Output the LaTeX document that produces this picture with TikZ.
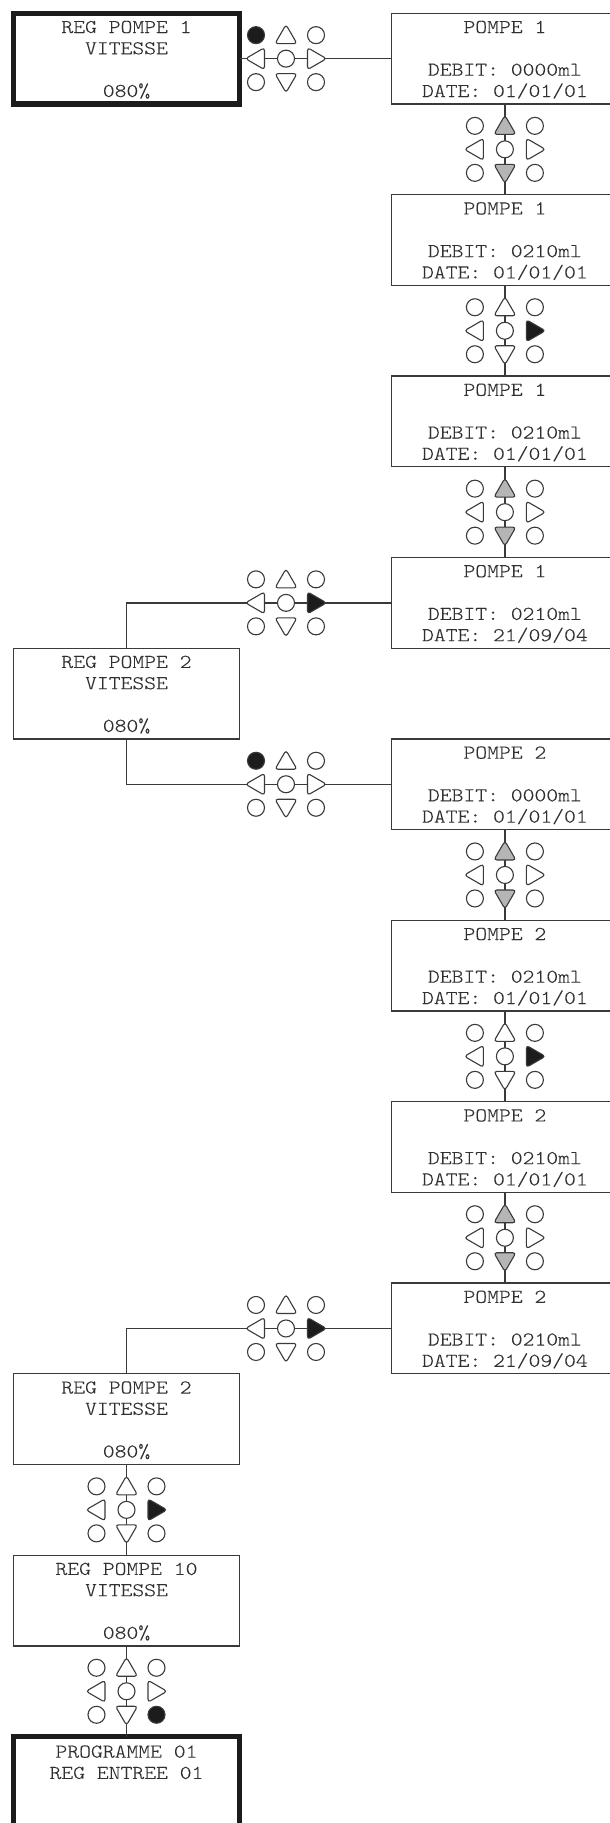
\documentclass[tikz,border=0pt]{standalone}
\usepackage{fontspec}
\newfontfamily\lcd{lmmonolt10-regular.otf}[FakeStretch=1.15, FakeBold=0.1]
\definecolor{linec}{HTML}{3A3A3A}
\definecolor{textc}{HTML}{303030}
\definecolor{keygray}{HTML}{B5B5B5}
\definecolor{keyblack}{HTML}{1C1C1C}
\tikzset{
  screen/.style={draw=linec, line width=1.3pt, rectangle, minimum width=226.4pt,
    minimum height=90.7pt, inner sep=0pt, outer sep=0pt, fill=white},
  thickscreen/.style={screen, draw=keyblack, line width=5.3pt},
  lcdtext/.style={font=\lcd\fontsize{19.6}{21.3}\selectfont, text=textc,
    inner sep=0pt, anchor=base},
  conn/.style={draw=linec, line width=1.3pt},
  key/.style={draw=linec, line width=1.1pt, rounded corners=3pt},
}
% pump screen: name, x-left, y-top, line1, line3, line4
\newcommand\pumpbox[6]{%
  \node[screen, anchor=north west] (#1) at (#2,#3) {};
  \node[lcdtext] (#1-1) at ([yshift=-19.7pt]#1.north) {#4};
  \node[lcdtext] (#1-3) at ([yshift=-62.4pt]#1.north) {#5};
  \node[lcdtext] (#1-4) at ([yshift=-83.7pt]#1.north) {#6};
}
% regulation screen: name, style, x-left, y-top, line1, line2, line4
\newcommand\regbox[7]{%
  \node[#2, anchor=north west] (#1) at (#3,#4) {};
  \node[lcdtext] (#1-1) at ([yshift=-19.7pt]#1.north) {#5};
  \node[lcdtext] (#1-2) at ([yshift=-41pt]#1.north) {#6};
  \node[lcdtext] (#1-4) at ([yshift=-83.7pt]#1.north) {#7};
}
% keypad: name, cx, cy, fill TL, fill up, fill right, fill down, fill BR
\newcommand\keypad[8]{%
  \begin{scope}[shift={(#2,#3)}]
    \coordinate (#1) at (0,0);
    \draw[key, fill=#4] (-30,-23.5) circle[radius=8.5pt];
    \draw[key, fill=white] (30,-23.5) circle[radius=8.5pt];
    \draw[key, fill=white] (0,0) circle[radius=8.5pt];
    \draw[key, fill=white] (-30,23.5) circle[radius=8.5pt];
    \draw[key, fill=#8] (30,23.5) circle[radius=8.5pt];
    \draw[key, fill=#5] (0,-15) -- (11,-15) -- (0,-34) -- (-11,-15) -- cycle;
    \draw[key, fill=#7] (0,15) -- (11,15) -- (0,34) -- (-11,15) -- cycle;
    \draw[key, fill=white] (-21.5,0) -- (-21.5,11) -- (-40.5,0) -- (-21.5,-11) -- cycle;
    \draw[key, fill=#6] (21.5,0) -- (21.5,11) -- (40.5,0) -- (21.5,-11) -- cycle;
  \end{scope}}
\begin{document}
\begin{tikzpicture}[x=1pt, y=-1pt]
\fill[white] (0,0) rectangle (610,1823);
\useasboundingbox (0,0) rectangle (610,1823);
\clip (0,0) rectangle (610,1823);

% right column screens
\pumpbox{P1a}{391.7}{13.3}{POMPE 1}{DEBIT: 0000ml}{DATE: 01/01/01}
\pumpbox{P1b}{391.7}{194.7}{POMPE 1}{DEBIT: 0210ml}{DATE: 01/01/01}
\pumpbox{P1c}{391.7}{376.1}{POMPE 1}{DEBIT: 0210ml}{DATE: 01/01/01}
\pumpbox{P1d}{391.7}{557.5}{POMPE 1}{DEBIT: 0210ml}{DATE: 21/09/04}
\pumpbox{P2a}{391.7}{738.9}{POMPE 2}{DEBIT: 0000ml}{DATE: 01/01/01}
\pumpbox{P2b}{391.7}{920.3}{POMPE 2}{DEBIT: 0210ml}{DATE: 01/01/01}
\pumpbox{P2c}{391.7}{1101.7}{POMPE 2}{DEBIT: 0210ml}{DATE: 01/01/01}
\pumpbox{P2d}{391.7}{1283.1}{POMPE 2}{DEBIT: 0210ml}{DATE: 21/09/04}

% left column screens
\regbox{A}{thickscreen}{13.3}{13.3}{REG POMPE 1}{VITESSE}{080\%}
\regbox{B}{screen}{13.3}{648.2}{REG POMPE 2}{VITESSE}{080\%}
\regbox{C}{screen}{13.3}{1373.8}{REG POMPE 2}{VITESSE}{080\%}
\regbox{D}{screen}{13.3}{1555.2}{REG POMPE 10}{VITESSE}{080\%}
\node[thickscreen, anchor=north west, minimum height=110pt] (E) at (13.3,1736.6) {};
\node[lcdtext] (E-1) at ([yshift=-21pt]E.north) {PROGRAMME 01};
\node[lcdtext] (E-2) at ([yshift=-42.3pt]E.north) {REG ENTREE 01};

% connectors
\draw[conn] (A.east) -- (A.east -| P1a.west);
\draw[conn] (P1a.south) -- (P1b.north);
\draw[conn] (P1b.south) -- (P1c.north);
\draw[conn] (P1c.south) -- (P1d.north);
\draw[conn] (P1d.west) -| (B.north);
\draw[conn] (B.south) |- (P2a.west);
\draw[conn] (P2a.south) -- (P2b.north);
\draw[conn] (P2b.south) -- (P2c.north);
\draw[conn] (P2c.south) -- (P2d.north);
\draw[conn] (P2d.west) -| (C.north);
\draw[conn] (C.south) -- (D.north);
\draw[conn] (D.south) -- (E.north);

% keypads
\keypad{K1}{286}{58.65}{keyblack}{white}{white}{white}{white}
\keypad{K2}{504.9}{149.35}{white}{keygray}{white}{keygray}{white}
\keypad{K3}{504.9}{330.75}{white}{white}{keyblack}{white}{white}
\keypad{K4}{504.9}{512.15}{white}{keygray}{white}{keygray}{white}
\keypad{K5}{286}{602.85}{white}{white}{keyblack}{white}{white}
\keypad{K6}{286}{784.25}{keyblack}{white}{white}{white}{white}
\keypad{K7}{504.9}{874.95}{white}{keygray}{white}{keygray}{white}
\keypad{K8}{504.9}{1056.35}{white}{white}{keyblack}{white}{white}
\keypad{K9}{504.9}{1237.75}{white}{keygray}{white}{keygray}{white}
\keypad{K10}{286}{1328.45}{white}{white}{keyblack}{white}{white}
\keypad{K11}{126.5}{1509.85}{white}{white}{keyblack}{white}{white}
\keypad{K12}{126.5}{1691.25}{white}{white}{white}{white}{keyblack}
\end{tikzpicture}
\end{document}
